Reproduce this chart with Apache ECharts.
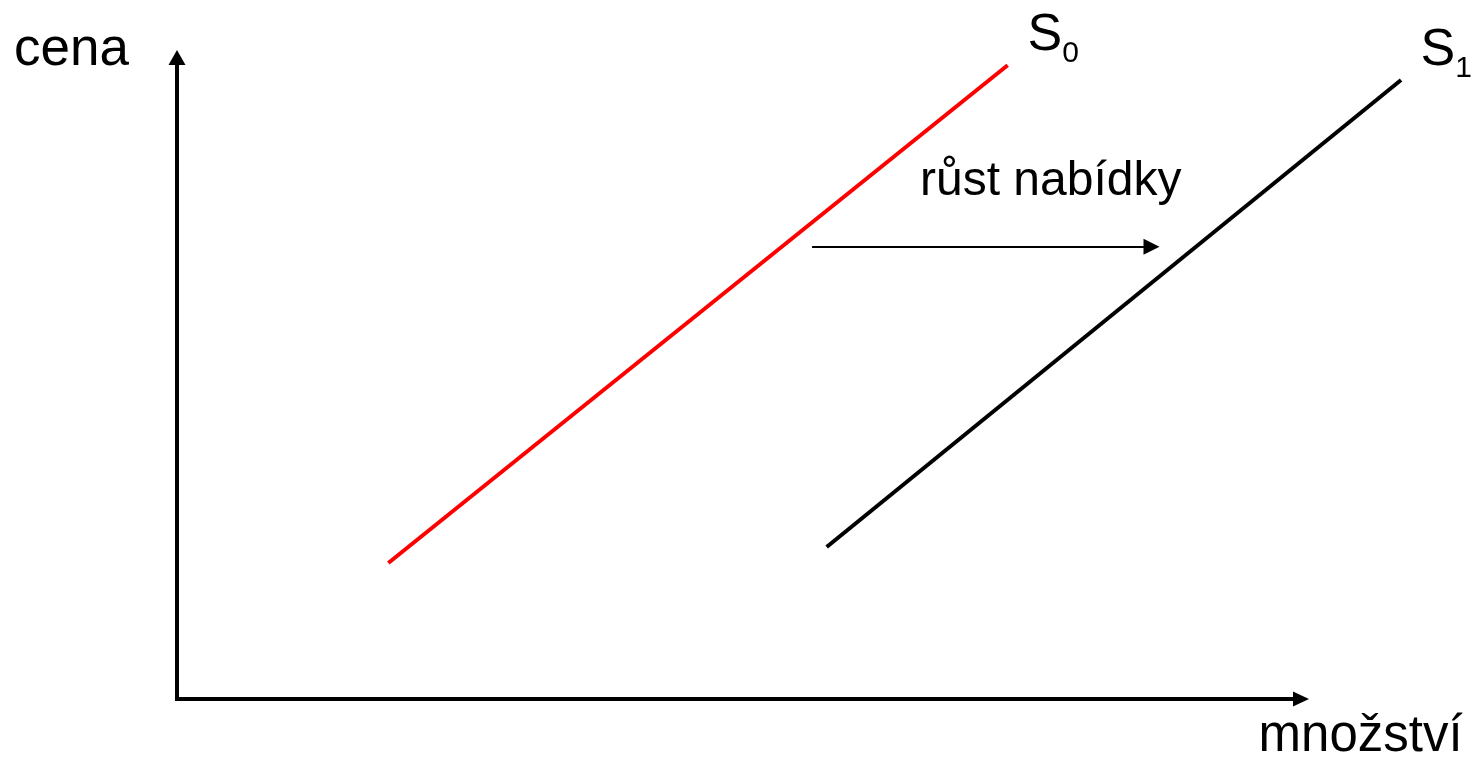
<!DOCTYPE html>
<html>
<head>
<meta charset="utf-8">
<script src="https://cdn.jsdelivr.net/npm/echarts@6/dist/echarts.min.js"></script>
<style>
  html, body { margin: 0; padding: 0; background: #fff; }
  #chart { width: 1473px; height: 768px; }
</style>
</head>
<body>
<div id="chart"></div>
<script>
// Angebotskurven (Menge, Preis) in relativen Einheiten 0..100
const supplyS0 = [[18.8, 21.2], [73.9, 98.8]];
const supplyS1 = [[57.8, 23.7], [108.9, 96.5]];
const shiftArrow = [[56.5, 70.5], [86.7, 70.5]];
const labelS0 = 'S0';
const labelS1 = 'S1';

const FONT = '"Liberation Sans", Arial, sans-serif';

const chart = echarts.init(document.getElementById('chart'));

// "S0" -> S mit tiefgestellter Ziffer
function subLabel(name, x, baseline) {
    return {
        type: 'text', x: x, y: baseline - 16,
        style: {
            text: '{s|' + name.charAt(0) + '}{sub|' + name.slice(1) + '}',
            align: 'left', verticalAlign: 'middle', fill: '#000',
            rich: {
                s: { font: '52px ' + FONT, fill: '#000' },
                sub: { font: '30px ' + FONT, fill: '#000', padding: [35, 0, 0, 0] }
            }
        }
    };
}

const option = {
    animation: false,
    grid: { left: 177, right: 172, top: 57.5, bottom: 69 },
    xAxis: {
        type: 'value', min: 0, max: 100,
        axisLine: { show: true, symbol: ['none', 'triangle'], symbolSize: [15, 16],
            lineStyle: { color: '#000', width: 4, cap: 'square' } },
        axisTick: { show: false }, axisLabel: { show: false }, splitLine: { show: false }
    },
    yAxis: {
        type: 'value', min: 0, max: 100,
        axisLine: { show: true, symbol: ['none', 'triangle'], symbolSize: [17, 15],
            lineStyle: { color: '#000', width: 4, cap: 'square' } },
        axisTick: { show: false }, axisLabel: { show: false }, splitLine: { show: false }
    },
    series: [
        {
            name: labelS0, type: 'lines', coordinateSystem: 'cartesian2d', clip: false,
            data: [{ coords: supplyS0 }],
            lineStyle: { color: '#ff0000', width: 4, opacity: 1 }
        },
        {
            name: labelS1, type: 'lines', coordinateSystem: 'cartesian2d', clip: false,
            data: [{ coords: supplyS1 }],
            lineStyle: { color: '#000', width: 4, opacity: 1 }
        },
        {
            name: 'posun', type: 'lines', coordinateSystem: 'cartesian2d', clip: false,
            symbol: ['none', 'triangle'], symbolSize: [16, 16],
            data: [{ coords: shiftArrow }],
            lineStyle: { color: '#000', width: 2, opacity: 1 }
        }
    ],
    graphic: [
        { type: 'text', x: 14, y: 50.6,
          style: { text: 'cena', font: '53px ' + FONT, fill: '#000', align: 'left', verticalAlign: 'middle' } },
        { type: 'text', x: 1258.6, y: 737,
          style: { text: 'množství', font: '51px ' + FONT, fill: '#000', align: 'left', verticalAlign: 'middle' } },
        { type: 'text', x: 920, y: 182,
          style: { text: 'růst nabídky', font: '48px ' + FONT, fill: '#000', align: 'left', verticalAlign: 'middle' } },
        subLabel(labelS0, 1027.5, 52),
        subLabel(labelS1, 1420.5, 67)
    ]
};

chart.setOption(option);
window.addEventListener('resize', () => chart.resize());
</script>
</body>
</html>
